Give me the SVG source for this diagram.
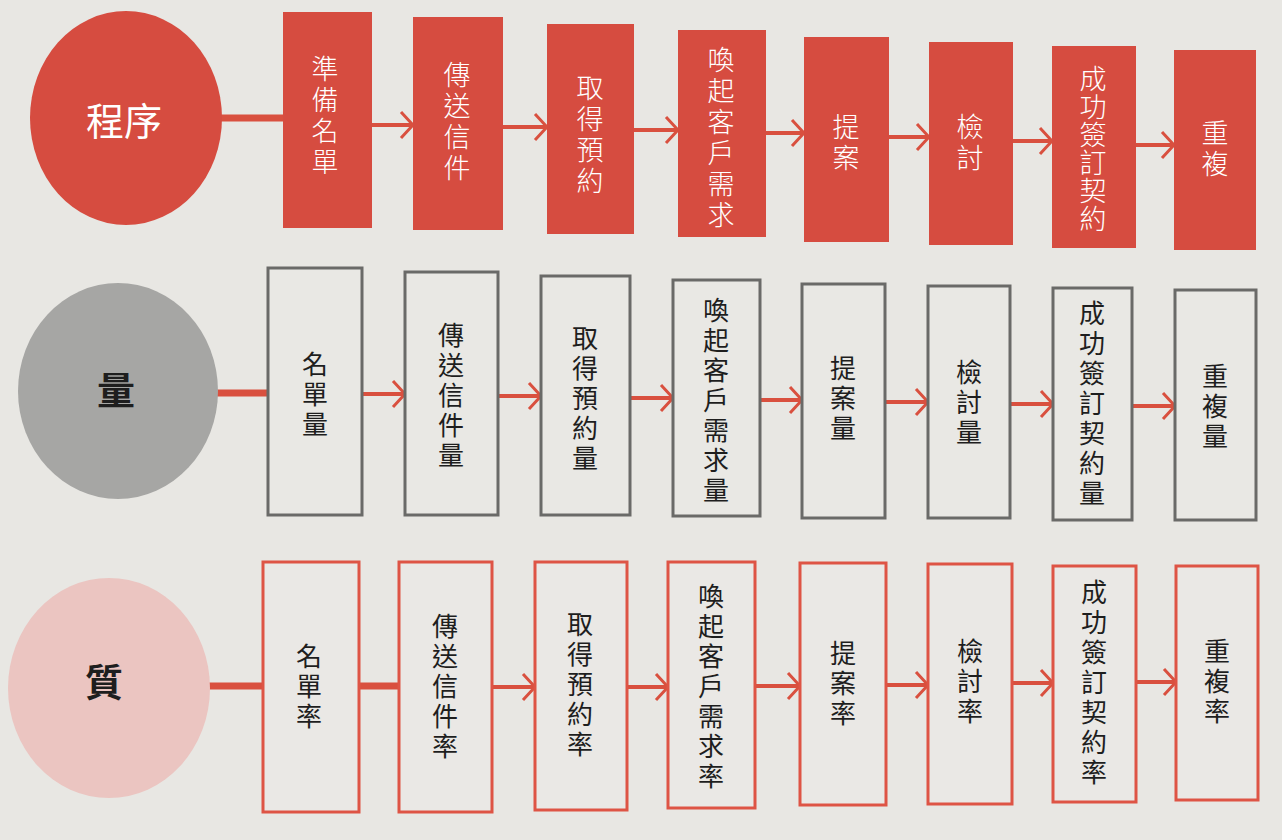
<svg xmlns="http://www.w3.org/2000/svg" width="1282" height="840" viewBox="0 0 1282 840">
<defs>
<marker id="arr" markerUnits="userSpaceOnUse" viewBox="0 0 16 30" refX="14" refY="15" markerWidth="16" markerHeight="30" orient="auto">
<path d="M2,2 L14,15 L2,28" fill="none" stroke="#d9503f" stroke-width="3"/>
</marker>
</defs>
<style>
.bg{fill:#e8e7e3}
.r1{fill:#d64c40}
.r2{fill:#e9e8e4;stroke:#6a6a68;stroke-width:3}
.r3{fill:#eae8e5;stroke:#de5445;stroke-width:3}
.c1{fill:#d64c40}
.c2{fill:#a6a6a4}
.c3{fill:#ebc5c1}
.v{writing-mode:vertical-rl;text-anchor:middle;font-family:"Noto Sans CJK TC","Noto Sans CJK JP",sans-serif}
.t1{font-size:27px;font-weight:300;fill:#ffffff;letter-spacing:4px}
.t2{font-size:26px;font-weight:400;fill:#1e1e1e;letter-spacing:4px}
.ct1{font-family:"Noto Sans CJK TC","Noto Sans CJK JP",sans-serif;font-size:38px;font-weight:400;fill:#ffffff;text-anchor:middle}
.ct2{font-family:"Noto Sans CJK TC","Noto Sans CJK JP",sans-serif;font-size:38px;font-weight:700;fill:#1e1e1e;text-anchor:middle}
.lnk{stroke:#d9503f;stroke-width:4;fill:none;marker-end:url(#arr)}
.thick{stroke:#d9503f;stroke-width:7;fill:none}
</style>
<rect class="bg" x="0" y="0" width="1282" height="840"/>

<g id="connectors">
<line class="thick" x1="218" y1="118" x2="284" y2="118"/>
<line class="lnk" x1="372" y1="125" x2="413" y2="125"/>
<line class="lnk" x1="503" y1="127" x2="547" y2="127"/>
<line class="lnk" x1="634" y1="130" x2="678" y2="130"/>
<line class="lnk" x1="766" y1="133" x2="804" y2="133"/>
<line class="lnk" x1="889" y1="137" x2="929" y2="137"/>
<line class="lnk" x1="1013" y1="141" x2="1052" y2="141"/>
<line class="lnk" x1="1136" y1="145" x2="1174" y2="145"/>

<line class="thick" x1="215" y1="393" x2="268" y2="393"/>
<line class="lnk" x1="362" y1="394" x2="405" y2="394"/>
<line class="lnk" x1="498" y1="396" x2="541" y2="396"/>
<line class="lnk" x1="630" y1="398" x2="673" y2="398"/>
<line class="lnk" x1="760" y1="400" x2="802" y2="400"/>
<line class="lnk" x1="885" y1="402" x2="928" y2="402"/>
<line class="lnk" x1="1010" y1="404" x2="1053" y2="404"/>
<line class="lnk" x1="1132" y1="406" x2="1175" y2="406"/>

<line class="thick" x1="207" y1="686" x2="263" y2="686"/>
<line class="thick" x1="359" y1="686" x2="399" y2="686"/>
<line class="lnk" x1="492" y1="687" x2="535" y2="687"/>
<line class="lnk" x1="627" y1="687" x2="668" y2="687"/>
<line class="lnk" x1="755" y1="686" x2="800" y2="686"/>
<line class="lnk" x1="886" y1="685" x2="928" y2="685"/>
<line class="lnk" x1="1012" y1="683" x2="1053" y2="683"/>
<line class="lnk" x1="1136" y1="682" x2="1176" y2="682"/>
</g>

<!-- Row 1 -->
<g id="c1"><ellipse class="c1" cx="126" cy="118" rx="96" ry="107"/><text class="ct1" x="124" y="135">程序</text></g>
<g id="p1"><rect class="r1" x="283" y="12" width="89" height="216"/><text class="v t1" x="325" y="117">準備名單</text></g>
<g id="p2"><rect class="r1" x="413" y="17" width="90" height="213"/><text class="v t1" x="457" y="123">傳送信件</text></g>
<g id="p3"><rect class="r1" x="547" y="24" width="87" height="210"/><text class="v t1" x="590" y="136">取得預約</text></g>
<g id="p4"><rect class="r1" x="678" y="30" width="88" height="207"/><text class="v t1" x="721" y="139">喚起客戶需求</text></g>
<g id="p5"><rect class="r1" x="804" y="37" width="85" height="205"/><text class="v t1" x="846" y="144">提案</text></g>
<g id="p6"><rect class="r1" x="929" y="42" width="84" height="203"/><text class="v t1" x="970" y="144">檢討</text></g>
<g id="p7"><rect class="r1" x="1052" y="46" width="84" height="202"/><text class="v t1" x="1093" y="149" style="letter-spacing:1px">成功簽訂契約</text></g>
<g id="p8"><rect class="r1" x="1174" y="50" width="82" height="200"/><text class="v t1" x="1215" y="150">重複</text></g>

<!-- Row 2 -->
<g id="c2"><ellipse class="c2" cx="118" cy="391" rx="100" ry="108"/><text class="ct2" x="116" y="404">量</text></g>
<g id="q1"><rect class="r2" x="268" y="268" width="94" height="247"/><text class="v t2" x="315" y="396">名單量</text></g>
<g id="q2"><rect class="r2" x="405" y="272" width="93" height="243"/><text class="v t2" x="451" y="397">傳送信件量</text></g>
<g id="q3"><rect class="r2" x="541" y="276" width="89" height="239"/><text class="v t2" x="585" y="400">取得預約量</text></g>
<g id="q4"><rect class="r2" x="673" y="280" width="87" height="236"/><text class="v t2" x="716" y="402">喚起客戶需求量</text></g>
<g id="q5"><rect class="r2" x="802" y="284" width="83" height="234"/><text class="v t2" x="843" y="400">提案量</text></g>
<g id="q6"><rect class="r2" x="928" y="286" width="82" height="232"/><text class="v t2" x="969" y="404">檢討量</text></g>
<g id="q7"><rect class="r2" x="1053" y="288" width="79" height="232"/><text class="v t2" x="1092" y="405">成功簽訂契約量</text></g>
<g id="q8"><rect class="r2" x="1175" y="290" width="81" height="230"/><text class="v t2" x="1215" y="408">重複量</text></g>

<!-- Row 3 -->
<g id="c3"><ellipse class="c3" cx="109" cy="688" rx="101" ry="110"/><text class="ct2" x="104" y="696">質</text></g>
<g id="s1"><rect class="r3" x="263" y="562" width="96" height="250"/><text class="v t2" x="309" y="688">名單率</text></g>
<g id="s2"><rect class="r3" x="399" y="562" width="93" height="250"/><text class="v t2" x="445" y="688">傳送信件率</text></g>
<g id="s3"><rect class="r3" x="535" y="562" width="92" height="248"/><text class="v t2" x="580" y="686">取得預約率</text></g>
<g id="s4"><rect class="r3" x="668" y="562" width="87" height="246"/><text class="v t2" x="711" y="688">喚起客戶需求率</text></g>
<g id="s5"><rect class="r3" x="800" y="563" width="86" height="242"/><text class="v t2" x="843" y="685">提案率</text></g>
<g id="s6"><rect class="r3" x="928" y="564" width="84" height="240"/><text class="v t2" x="970" y="683">檢討率</text></g>
<g id="s7"><rect class="r3" x="1053" y="566" width="83" height="236"/><text class="v t2" x="1094" y="684">成功簽訂契約率</text></g>
<g id="s8"><rect class="r3" x="1176" y="566" width="82" height="234"/><text class="v t2" x="1217" y="683">重複率</text></g>
</svg>
